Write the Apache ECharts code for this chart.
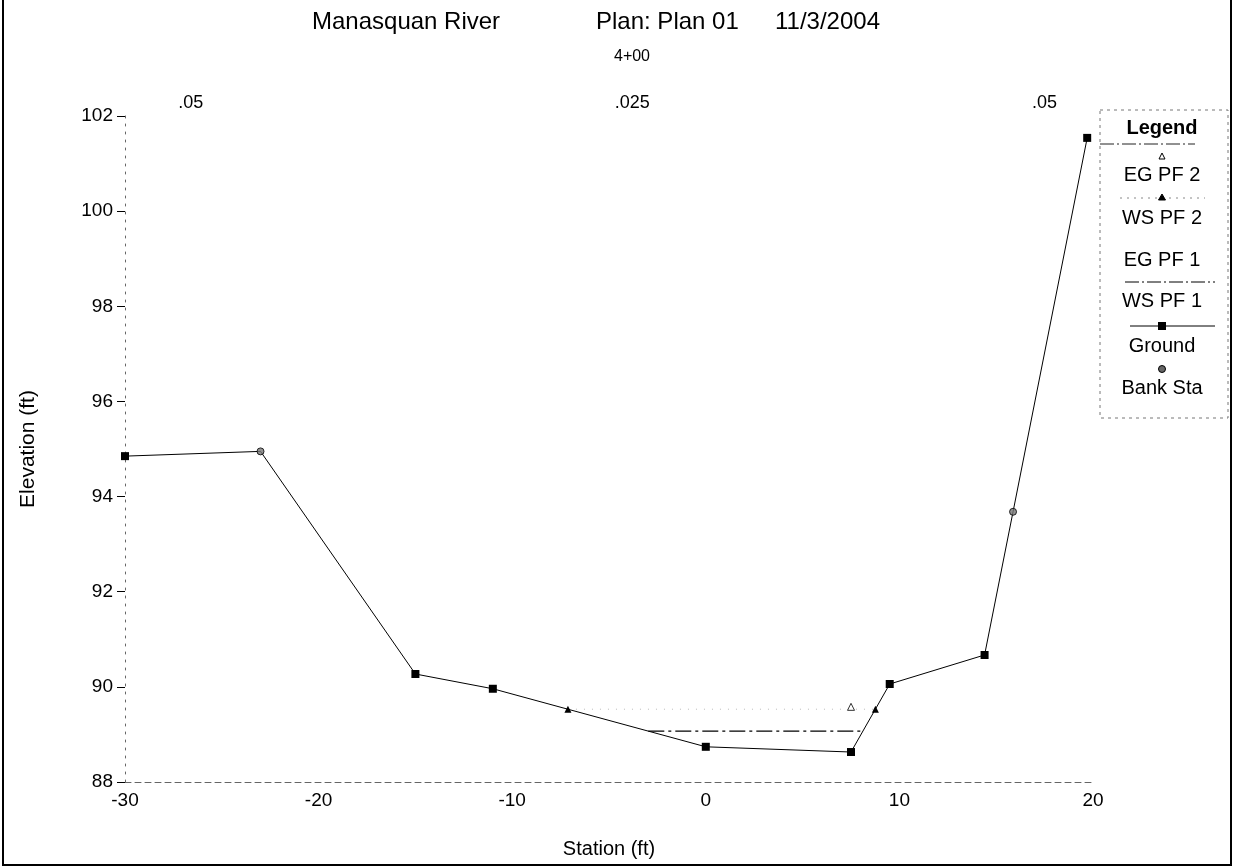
<!DOCTYPE html>
<html>
<head>
<meta charset="utf-8">
<title>Manasquan River 4+00</title>
<script src="https://cdn.jsdelivr.net/npm/echarts@6/dist/echarts.min.js"></script>
<style>
  html, body { margin: 0; padding: 0; background: #fff; }
  #chart { width: 1233px; height: 867px; }
</style>
</head>
<body>
<div id="chart"></div>
<script>
// Cross section 4+00 — station / elevation pairs (ft)
const groundStation = [-30, -23, -15, -11, 0, 7.5, 9.5, 14.4, 15.87, 19.7];
const groundElev    = [94.85, 94.95, 90.27, 89.96, 88.74, 88.63, 90.06, 90.67, 93.68, 101.54];

// Bank stations (also ground points)
const bankStation = [-23, 15.87];
const bankElev    = [94.95, 93.68];

// Water surfaces and energy grade
const wsPF1Station = [-2.97, 8.12];
const wsPF1Elev    = [89.07, 89.07];
const wsPF2Station = [-7.12, 8.76];
const wsPF2Elev    = [89.53, 89.53];
const egPF2Station = [7.5];
const egPF2Elev    = [89.58];

// Manning's n values, placed across each reach of the section
const nStation = [-26.6, -3.8, 17.5];
const nLabel   = ['.05', '.025', '.05'];
const nLabelElev = 102.27;

// Axis ticks
const xTicks = { min: -30, max: 20, step: 10 };
const yTicks = { min: 88, max: 102, step: 2 };

const FONT = '"Liberation Sans", Arial, Helvetica, sans-serif';
const isBank = new Set(bankStation);

const chart = echarts.init(document.getElementById('chart'), null, { renderer: 'canvas' });

const groundData = groundStation.map((s, i) => {
  const item = { value: [s, groundElev[i]] };
  if (isBank.has(s)) item.symbol = 'none';
  return item;
});

const pairs = (xs, ys) => xs.map((x, i) => [x, ys[i]]);

// Legend block drawn at the right edge
const LX = 1100, LR = 1228, LC = 1162;
const LFONT = '20px ' + FONT;
const centred = (text, y, font) => ({
  type: 'text',
  style: { text, x: LC, y, font: font || LFONT, fill: '#000', textAlign: 'center', textVerticalAlign: 'middle' }
});
const legendGraphics = [
  { type: 'rect', shape: { x: LX, y: 110, width: LR - LX, height: 308 },
    style: { fill: 'none', stroke: '#777', lineWidth: 1, lineDash: [3, 4] } },
  centred('Legend', 128, 'bold 20px ' + FONT),
  { type: 'line', shape: { x1: LX, y1: 144, x2: 1195, y2: 144 }, style: { stroke: '#222', lineWidth: 1, lineDash: [14, 3, 2, 3] } },
  // EG PF 2
  { type: 'polygon', shape: { points: [[LC, 153], [LC - 3, 159], [LC + 3, 159]] }, style: { fill: '#fff', stroke: '#000', lineWidth: 1 } },
  centred('EG PF 2', 175),
  // WS PF 2
  { type: 'line', shape: { x1: 1120, y1: 198, x2: 1205, y2: 198 }, style: { stroke: '#888', lineWidth: 1, lineDash: [2, 5] } },
  { type: 'polygon', shape: { points: [[LC, 194], [LC - 3.5, 200], [LC + 3.5, 200]] }, style: { fill: '#000', stroke: '#000', lineWidth: 1 } },
  centred('WS PF 2', 218),
  // EG PF 1
  centred('EG PF 1', 260),
  // WS PF 1
  { type: 'line', shape: { x1: 1125, y1: 282, x2: 1215, y2: 282 }, style: { stroke: '#000', lineWidth: 1, lineDash: [14, 3, 2, 3] } },
  centred('WS PF 1', 301),
  // Ground
  { type: 'line', shape: { x1: 1130, y1: 326, x2: 1215, y2: 326 }, style: { stroke: '#000', lineWidth: 1 } },
  { type: 'rect', shape: { x: LC - 4, y: 322, width: 8, height: 8 }, style: { fill: '#000' } },
  centred('Ground', 346),
  // Bank Sta
  { type: 'circle', shape: { cx: LC, cy: 369, r: 3.5 }, style: { fill: '#666', stroke: '#000', lineWidth: 1 } },
  centred('Bank Sta', 388)
];

const TFONT = '24px ' + FONT;
const option = {
  backgroundColor: '#fff',
  animation: false,
  grid: { left: 125, right: 140, top: 116, bottom: 85, containLabel: false },
  xAxis: {
    type: 'value',
    min: xTicks.min, max: xTicks.max, interval: xTicks.step,
    name: 'Station (ft)', nameLocation: 'middle', nameGap: 57,
    nameTextStyle: { fontFamily: FONT, fontSize: 20, color: '#000' },
    axisLine: { show: true, onZero: false, lineStyle: { color: '#666', width: 1, type: [6, 4] } },
    axisTick: { show: false },
    splitLine: { show: false },
    axisLabel: { color: '#000', fontFamily: FONT, fontSize: 19, margin: 9 }
  },
  yAxis: {
    type: 'value',
    min: yTicks.min, max: yTicks.max, interval: yTicks.step,
    name: 'Elevation (ft)', nameLocation: 'middle', nameGap: 86, nameRotate: 90,
    nameTextStyle: { fontFamily: FONT, fontSize: 21, color: '#000' },
    axisLine: { show: true, onZero: false, lineStyle: { color: '#666', width: 1, type: [2, 6] } },
    axisTick: { show: true, length: 8, lineStyle: { color: '#000', width: 1 } },
    splitLine: { show: false },
    axisLabel: { color: '#000', fontFamily: FONT, fontSize: 19, margin: 12 }
  },
  graphic: [
    // Outer frame
    { type: 'polyline', shape: { points: [[3, 0], [3, 865], [1231, 865], [1231, 0]] },
      style: { stroke: '#000', lineWidth: 2, fill: 'none' } },
    // Title lines
    { type: 'text', style: { text: 'Manasquan River', x: 312, y: 22, font: TFONT, fill: '#000', textVerticalAlign: 'middle' } },
    { type: 'text', style: { text: 'Plan: Plan 01', x: 596, y: 22, font: TFONT, fill: '#000', textVerticalAlign: 'middle' } },
    { type: 'text', style: { text: '11/3/2004', x: 775, y: 22, font: TFONT, fill: '#000', textVerticalAlign: 'middle' } },
    { type: 'text', style: { text: '4+00', x: 632, y: 57, font: '16px ' + FONT, fill: '#000', textAlign: 'center', textVerticalAlign: 'middle' } }
  ].concat(legendGraphics),
  series: [
    {
      name: 'n values',
      type: 'scatter',
      symbol: 'circle',
      symbolSize: 1,
      itemStyle: { color: '#fff', opacity: 1 },
      clip: false,
      silent: true,
      data: nStation.map((s, i) => ({ value: [s, nLabelElev], label: { formatter: nLabel[i] } })),
      label: { show: true, position: 'inside', color: '#000', fontFamily: FONT, fontSize: 18 }
    },
    {
      name: 'WS PF 2',
      type: 'line',
      data: pairs(wsPF2Station, wsPF2Elev),
      symbol: 'triangle', symbolSize: 7,
      itemStyle: { color: '#000' },
      lineStyle: { color: '#bbb', width: 1, type: [1, 7] },
      z: 3
    },
    {
      name: 'EG PF 2',
      type: 'scatter',
      data: pairs(egPF2Station, egPF2Elev),
      symbol: 'triangle', symbolSize: 7,
      itemStyle: { color: '#fff', borderColor: '#000', borderWidth: 1 },
      z: 4
    },
    {
      name: 'WS PF 1',
      type: 'line',
      data: pairs(wsPF1Station, wsPF1Elev),
      symbol: 'none',
      lineStyle: { color: '#000', width: 1.2, type: [16, 4, 3, 4] },
      z: 3
    },
    {
      name: 'Ground',
      type: 'line',
      data: groundData,
      symbol: 'rect', symbolSize: 8,
      itemStyle: { color: '#000' },
      lineStyle: { color: '#000', width: 1 },
      z: 5
    },
    {
      name: 'Bank Sta',
      type: 'scatter',
      data: pairs(bankStation, bankElev),
      symbol: 'circle', symbolSize: 7,
      itemStyle: { color: '#777', borderColor: '#000', borderWidth: 1 },
      z: 6
    }
  ]
};

chart.setOption(option);
</script>
</body>
</html>
